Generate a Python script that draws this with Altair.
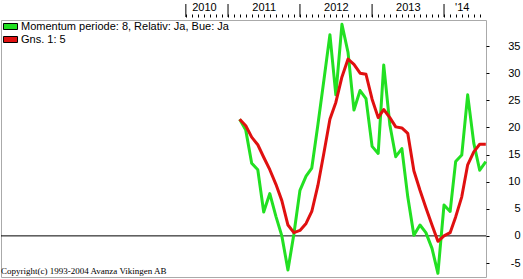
import altair as alt
import pandas as pd

# ---- data ----
series_names = ["Momentum periode: 8, Relativ: Ja, Bue: Ja", "Gns. 1: 5"]
series_colors = ["#22e022", "#e01010"]

months = [d.strftime("%Y-%m-%d") for d in pd.date_range("2011-03-01", periods=42, freq="MS")]

momentum = [21.5, 19.5, 13.4, 12.2, 4.4, 7.8, 3.6, 0.0, -6.3, 0.3,
            8.4, 11.0, 12.5, 20.5, 28.6, 37.1, 26.0, 39.0, 33.8, 23.2,
            26.8, 25.3, 16.5, 15.2, 31.5, 20.5, 14.6, 16.1, 7.2, 0.1,
            2.0, 0.6, -2.3, -6.9, 5.7, 4.5, 13.7, 14.9, 26.0, 17.1,
            12.1, 13.7]

average = [21.5, 20.3, 18.2, 16.8, 14.5, 12.2, 9.5, 6.5, 2.0, 0.6,
           1.0, 2.3, 4.5, 9.3, 15.2, 21.5, 24.6, 29.3, 32.6, 31.6,
           30.0, 29.8, 25.2, 21.8, 23.3, 21.8, 20.1, 19.9, 18.9, 12.0,
           8.4, 5.2, 2.0, -1.0, 0.0, 0.6, 3.5, 7.2, 13.1, 15.5,
           16.9, 16.9]

year_boundaries = ["2010-06-01", "2011-01-01", "2012-01-01", "2013-01-01", "2014-01-01"]
y_ticks = [-5, 0, 5, 10, 15, 20, 25, 30, 35]
copyright_text = "Copyright(c) 1993-2004 Avanza Vikingen AB"

# ---- tables ----
df = pd.DataFrame({
    "date": months * 2,
    "value": momentum + average,
    "series": [series_names[0]] * len(months) + [series_names[1]] * len(months),
})
df_years = pd.DataFrame({"date": year_boundaries, "value": [0] * len(year_boundaries)})
df_zero = pd.DataFrame({"value": [0]})

# monthly tick values on the top axis (June 2010 .. July 2014)
tick_dates = [alt.DateTime(year=d.year, month=d.month, date=1, utc=True)
              for d in pd.date_range("2010-06-01", "2014-07-01", freq="MS")]

FONT = "Liberation Sans"

xscale = alt.Scale(type="utc",
                   domain=[alt.DateTime(year=2007, month=11, date=6, utc=True),
                           alt.DateTime(year=2014, month=8, date=2, utc=True)])
yscale = alt.Scale(domain=[-7.58, 39.8], nice=False, zero=False)

label_expr = ("(utcmonth(datum.value) == 6 && utcyear(datum.value) > 2010 && utcyear(datum.value) < 2014) ? "
              "utcFormat(datum.value, '%Y') : "
              "((utcyear(datum.value) == 2010 && utcmonth(datum.value) == 8) ? '2010' : "
              "((utcyear(datum.value) == 2014 && utcmonth(datum.value) == 3) ? \"'14\" : ''))")

x_axis = alt.Axis(orient="top", values=tick_dates, tickSize=3, offset=3, domain=False,
                  grid=False, labelExpr=label_expr, labelPadding=2, labelFont=FONT,
                  labelFontSize=11, labelColor="black", tickColor="black", title=None,
                  labelOverlap=False, labelFlush=False, labelAngle=0, labelBound=False)
y_axis = alt.Axis(orient="right", values=y_ticks, tickSize=3, domain=False, grid=False,
                  labelAlign="right", labelPadding=31, labelFont=FONT, labelFontSize=11,
                  labelColor="black", tickColor="black", title=None,
                  labelExpr="'' + datum.value", labelBaseline="middle")


def X():
    return alt.X("date:T", scale=xscale, axis=x_axis)


def Y():
    return alt.Y("value:Q", scale=yscale, axis=y_axis)


base = alt.Chart(df)

green = base.transform_filter(alt.datum.series == series_names[0]).mark_line(
    strokeWidth=3, strokeJoin="round", color=series_colors[0]).encode(x=X(), y=Y())
red = base.transform_filter(alt.datum.series == series_names[1]).mark_line(
    strokeWidth=3, strokeJoin="round", color=series_colors[1]).encode(x=X(), y=Y())

legend_layer = base.mark_point(filled=True, opacity=0).encode(
    x=X(), y=Y(),
    fill=alt.Fill("series:N", scale=alt.Scale(domain=series_names, range=series_colors),
                  legend=alt.Legend(orient="none", legendX=3, legendY=0, title=None,
                                    symbolType="M-1.17,-0.5H1.17V0.5H-1.17Z", symbolSize=144,
                                    symbolStrokeColor="#000000", symbolStrokeWidth=1,
                                    symbolOpacity=1, labelFont=FONT, labelFontSize=11,
                                    labelColor="black", labelOffset=4, rowPadding=1,
                                    padding=0, labelLimit=400)),
)

zero_line = alt.Chart(df_zero).mark_rule(color="black", strokeWidth=1).encode(y=Y())

year_ticks = alt.Chart(df_years).mark_rule(color="black", strokeWidth=1).encode(
    x=X(), y=alt.value(-16), y2=alt.value(-3))

copyright_layer = alt.Chart(df_zero).mark_text(
    align="left", baseline="alphabetic", font="Liberation Serif", fontSize=9, color="black"
).encode(x=alt.value(0), y=alt.value(254), text=alt.value(copyright_text))

chart = alt.layer(zero_line, green, red, legend_layer, year_ticks, copyright_layer).properties(
    width=485, height=257,
    autosize=alt.AutoSizeParams(type="none"),
    padding={"left": 1, "top": 20, "right": 37, "bottom": 2},
    background="white",
).configure_view(stroke="#aaaaaa", strokeWidth=1)

chart.save("out.html", embed_options={"renderer": "svg", "actions": False})
